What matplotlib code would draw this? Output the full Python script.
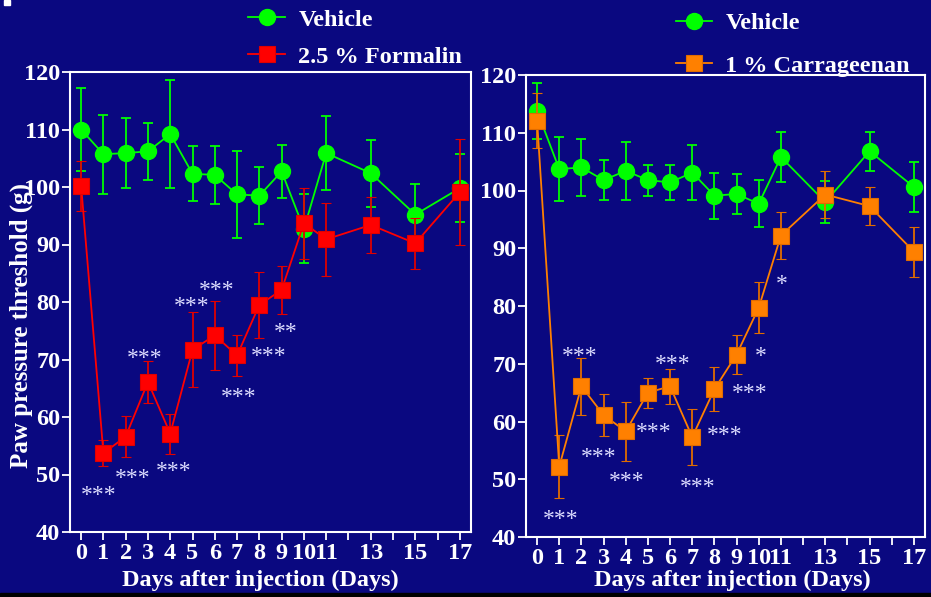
import matplotlib
matplotlib.use('Agg')
import matplotlib.pyplot as plt
from matplotlib.transforms import offset_copy
from matplotlib.lines import Line2D
import matplotlib.patches as mpatches

# days after injection
days = [0, 1, 2, 3, 4, 5, 6, 7, 8, 9, 10, 11, 13, 15, 17]

# left panel: vehicle vs 2.5 % formalin
veh_left = [110.0, 105.7, 105.9, 106.2, 109.2, 102.3, 102.1, 98.7, 98.5, 102.7, 92.7, 105.9, 102.4, 95.2, 99.8]
veh_left_err = [7.2, 6.9, 6.1, 4.9, 9.4, 4.8, 5.1, 7.6, 4.9, 4.6, 6.0, 6.4, 5.8, 5.3, 5.9]
form = [100.2, 53.7, 56.6, 66.1, 57.1, 71.7, 74.2, 70.7, 79.5, 82.1, 93.7, 90.9, 93.4, 90.2, 99.1]
form_err = [4.4, 2.3, 3.5, 3.7, 3.5, 6.5, 6.0, 3.6, 5.8, 4.1, 6.2, 6.3, 4.8, 4.4, 9.2]

# right panel: vehicle vs 1 % carrageenan
veh_right = [113.8, 103.7, 104.0, 101.8, 103.4, 101.8, 101.4, 103.1, 99.1, 99.4, 97.7, 105.8, 98.0, 106.8, 100.6]
veh_right_err = [4.9, 5.6, 4.9, 3.5, 5.0, 2.7, 3.1, 4.7, 4.0, 3.5, 4.1, 4.4, 3.7, 3.4, 4.3]
carr = [112.1, 52.2, 66.1, 61.1, 58.3, 65.0, 66.1, 57.3, 65.6, 71.6, 79.7, 92.2, 99.3, 97.3, 89.4]
carr_err = [4.7, 5.4, 4.9, 3.6, 5.1, 2.6, 3.0, 4.8, 3.8, 3.4, 4.4, 4.1, 4.0, 3.3, 4.3]

xtick_pos = list(range(0, 18))
xtick_lab = ['0', '1', '2', '3', '4', '5', '6', '7', '8', '9', '10', '11', '', '13', '', '15', '', '17']
yticks = [40, 50, 60, 70, 80, 90, 100, 110, 120]

# significance marks (text, x, y)
stars_left = [('***', 0.8, 47.3), ('***', 2.3, 50.3), ('***', 2.87, 71.1), ('***', 4.17, 51.5),
              ('***', 4.95, 80.2), ('***', 6.07, 83.0), ('***', 7.08, 64.4), ('***', 8.4, 71.5),
              ('**', 9.2, 75.7)]
stars_right = [('***', 1.07, 44.0), ('***', 1.94, 72.2), ('***', 2.78, 54.7), ('***', 4.04, 50.6),
               ('***', 5.26, 59.1), ('***', 6.11, 70.8), ('***', 7.24, 49.6), ('***', 8.45, 58.6),
               ('***', 9.6, 65.9), ('*', 10.07, 72.2), ('*', 11.05, 84.7)]

BG = '#0a0880'
SERIF = 'Liberation Serif'

fig = plt.figure(figsize=(9.31, 5.97), dpi=100, facecolor=BG)
ax1 = fig.add_axes([70/931, 1-532/597, 401/931, 460/597])
ax2 = fig.add_axes([526/931, 1-537/597, 399/931, 462/597])


def draw_panel(ax, veh, veh_err, treat, treat_err, tcol, ecol, tlabel, stars, leg_x, leg_y, lspace):
    ax.set_facecolor(BG)
    ax.errorbar(days, veh, yerr=veh_err, color='#00ff00', lw=1.3, elinewidth=1.3,
                capsize=3.8, capthick=1.3, marker='o', ms=11.5, mec='#00ff00', zorder=3)
    ax.errorbar(days, treat, yerr=treat_err, color=tcol, ecolor=ecol, lw=1.3, elinewidth=1.3,
                capsize=3.8, capthick=1.3, marker='s', ms=11.5, mec=ecol, mew=0.8, zorder=4)
    ax.set_xlim(-0.5, 17.5)
    ax.set_ylim(40, 120)
    ax.set_xticks(xtick_pos)
    ax.set_xticklabels(xtick_lab)
    ax.set_yticks(yticks)
    for s in ax.spines.values():
        s.set_color('white')
        s.set_linewidth(1.5)
    ax.tick_params(colors='white', width=1.3, length=6, direction='out')
    ax.tick_params(axis='x', pad=2)
    ax.tick_params(axis='y', pad=1)
    for lab in ax.get_xticklabels() + ax.get_yticklabels():
        lab.set_fontfamily(SERIF)
        lab.set_fontweight('bold')
        lab.set_fontsize(17.5)
    ax.set_xlabel('Days after injection (Days)', color='white', family=SERIF,
                  weight='bold', fontsize=17.5)
    tr = offset_copy(ax.transData, fig=fig, y=-8, units='points')
    for txt, x, y in stars:
        ax.text(x, y, txt, transform=tr, color='#dcdcff', family=SERIF, fontsize=17,
                ha='center', va='baseline')
    h1 = Line2D([], [], color='#00ff00', lw=1.3, marker='o', ms=11.5)
    h2 = Line2D([], [], color=tcol, lw=1.3, marker='s', ms=11.5, mec=ecol, mew=0.8)
    leg = ax.legend(handles=[h1, h2], labels=['Vehicle', tlabel], loc='upper left',
                    bbox_to_anchor=(leg_x, leg_y), frameon=False,
                    prop={'family': SERIF, 'weight': 'bold', 'size': 17.5},
                    handlelength=1.5, handletextpad=0.55, labelspacing=lspace,
                    borderpad=0, borderaxespad=0)
    for t in leg.get_texts():
        t.set_color('white')
    return ax


draw_panel(ax1, veh_left, veh_left_err, form, form_err, '#ff0000', '#e00000',
           '2.5 % Formalin', stars_left, 0.445, 1.137, 0.6)
draw_panel(ax2, veh_right, veh_right_err, carr, carr_err, '#ff8000', '#e06c00',
           '1 % Carrageenan', stars_right, 0.375, 1.136, 0.85)
ax1.xaxis.set_label_coords(0.474, -0.083)
ax2.xaxis.set_label_coords(0.516, -0.072)
ax1.set_ylabel('Paw pressure threshold (g)', color='white', family=SERIF,
               weight='bold', fontsize=18)
ax1.yaxis.set_label_coords(-0.092, 0.45)

# small white mark top-left and black strip at the bottom edge
fig.patches.append(mpatches.Rectangle((4/931, 1-5/597), 6/931, 5/597, color='white',
                                      transform=fig.transFigure, figure=fig))
fig.patches.append(mpatches.Rectangle((0, 0), 1, 4/597, color='black',
                                      transform=fig.transFigure, figure=fig))

fig.savefig('out.png', dpi=100, facecolor=BG)
